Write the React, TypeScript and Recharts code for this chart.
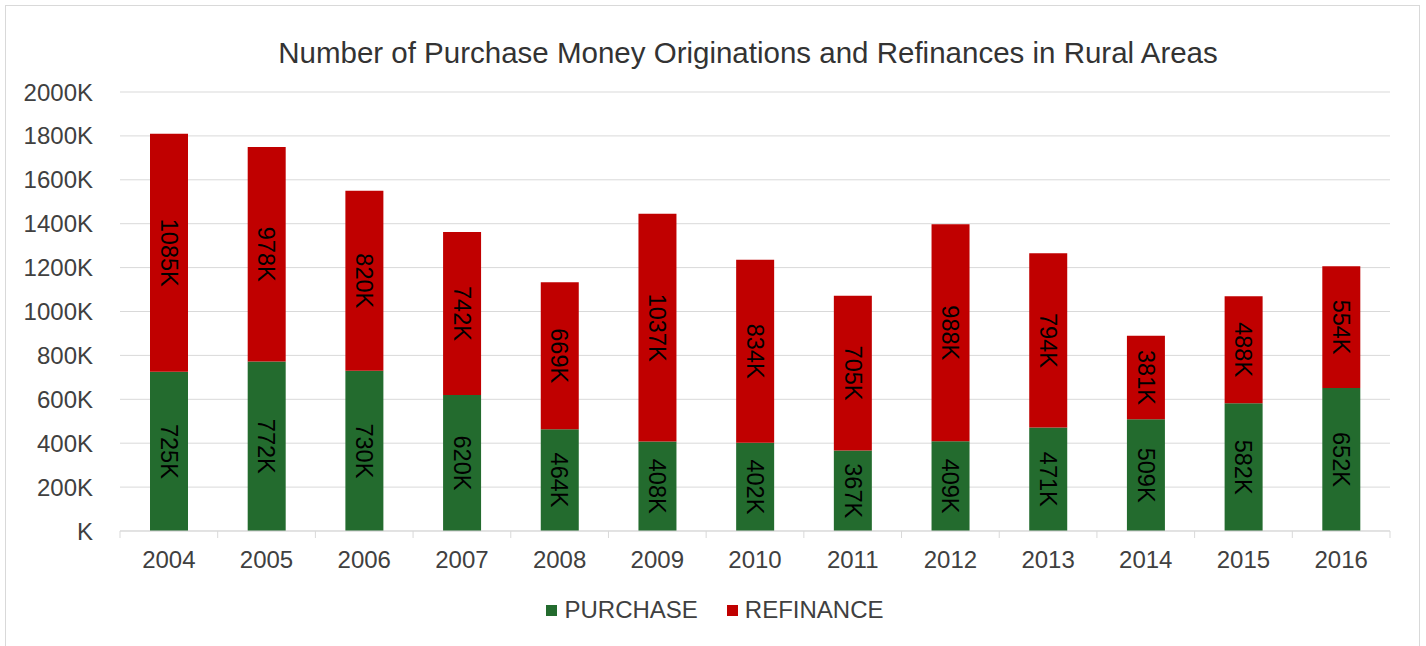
import { BarChart, Bar, XAxis, YAxis, CartesianGrid, Legend, LabelList } from "recharts";

const YEARS = ["2004", "2005", "2006", "2007", "2008", "2009", "2010", "2011", "2012", "2013", "2014", "2015", "2016"];
// values in thousands
const PURCHASE = [725, 772, 730, 620, 464, 408, 402, 367, 409, 471, 509, 582, 652];
const REFINANCE = [1085, 978, 820, 742, 669, 1037, 834, 705, 988, 794, 381, 488, 554];
const Y_TICKS = [0, 200, 400, 600, 800, 1000, 1200, 1400, 1600, 1800, 2000];

const GREEN = "#236b2e";
const RED = "#c00000";
const GRID = "#d9d9d9";
const TEXT = "#404040";
const FONT = "'Liberation Sans', Arial, sans-serif";

const W = 1426;
const H = 646;
const MARGIN = { top: 92, right: 36, left: 0, bottom: 65 };
const Y_AXIS_W = 120;
const STEP = (W - MARGIN.right - Y_AXIS_W) / YEARS.length;

const data = YEARS.map((year, i) => ({
  year,
  purchase: PURCHASE[i],
  refinance: REFINANCE[i],
}));

const fmtK = (v: number) => (v === 0 ? "K" : `${v}K`);

function YearTick(props: any) {
  const { x, y, payload, index } = props;
  const half = STEP / 2;
  return (
    <g>
      <line x1={x - half} x2={x - half} y1={y - 7} y2={y} stroke={GRID} />
      {index === YEARS.length - 1 && (
        <line x1={x + half} x2={x + half} y1={y - 7} y2={y} stroke={GRID} />
      )}
      <text x={x} y={y} dy={30} textAnchor="middle" fill={TEXT} fontSize={24}>
        {payload.value}
      </text>
    </g>
  );
}

function LegendContent() {
  const items = [
    { name: "PURCHASE", color: GREEN },
    { name: "REFINANCE", color: RED },
  ];
  return (
    <div style={{ display: "flex", justifyContent: "center", gap: 29, fontSize: 24, lineHeight: "26px", color: TEXT }}>
      {items.map((it) => (
        <div key={it.name} style={{ display: "flex", alignItems: "center" }}>
          <span style={{ display: "inline-block", width: 11, height: 11, background: it.color, marginRight: 7 }} />
          <span>{it.name}</span>
        </div>
      ))}
    </div>
  );
}

export default function App() {
  return (
    <div style={{ position: "absolute", left: 0, top: 0, width: W, height: H, background: "#fff", fontFamily: FONT, overflow: "hidden" }}>
      <div
        style={{
          position: "absolute",
          left: 5,
          top: 5,
          width: 1415,
          height: 700,
          border: `1px solid ${GRID}`,
          boxSizing: "border-box",
        }}
      />
      <div
        style={{
          position: "absolute",
          left: 110,
          width: 1276,
          top: 36,
          textAlign: "center",
          fontSize: 29.5,
          lineHeight: "34px",
          color: "#333",
        }}
      >
        Number of Purchase Money Originations and Refinances in Rural Areas
      </div>
      <BarChart width={W} height={H} data={data} margin={MARGIN} style={{ position: "absolute", left: 0, top: 0 }}>
        <CartesianGrid vertical={false} stroke={GRID} />
        <XAxis
          dataKey="year"
          height={50}
          axisLine={{ stroke: GRID }}
          tickLine={false}
          tickSize={7}
          tickMargin={0}
          interval={0}
          tick={<YearTick />}
        />
        <YAxis
          width={Y_AXIS_W}
          domain={[0, 2000]}
          ticks={Y_TICKS}
          interval={0}
          axisLine={false}
          tickLine={false}
          tickSize={0}
          tickMargin={27}
          tickFormatter={fmtK}
          tick={{ fill: TEXT, fontSize: 24 }}
        />
        <Legend
          verticalAlign="middle"
          align="center"
          layout="horizontal"
          content={<LegendContent />}
          wrapperStyle={{ top: 597, left: 0, width: 1430 }}
        />
        <Bar dataKey="purchase" name="PURCHASE" stackId="a" fill={GREEN} barSize={38} isAnimationActive={false}>
          <LabelList dataKey="purchase" position="center" angle={90} formatter={(v: any) => `${v}K`} fill="#000" fontSize={23.5} />
        </Bar>
        <Bar dataKey="refinance" name="REFINANCE" stackId="a" fill={RED} barSize={38} isAnimationActive={false}>
          <LabelList dataKey="refinance" position="center" angle={90} formatter={(v: any) => `${v}K`} fill="#000" fontSize={23.5} />
        </Bar>
      </BarChart>
    </div>
  );
}
